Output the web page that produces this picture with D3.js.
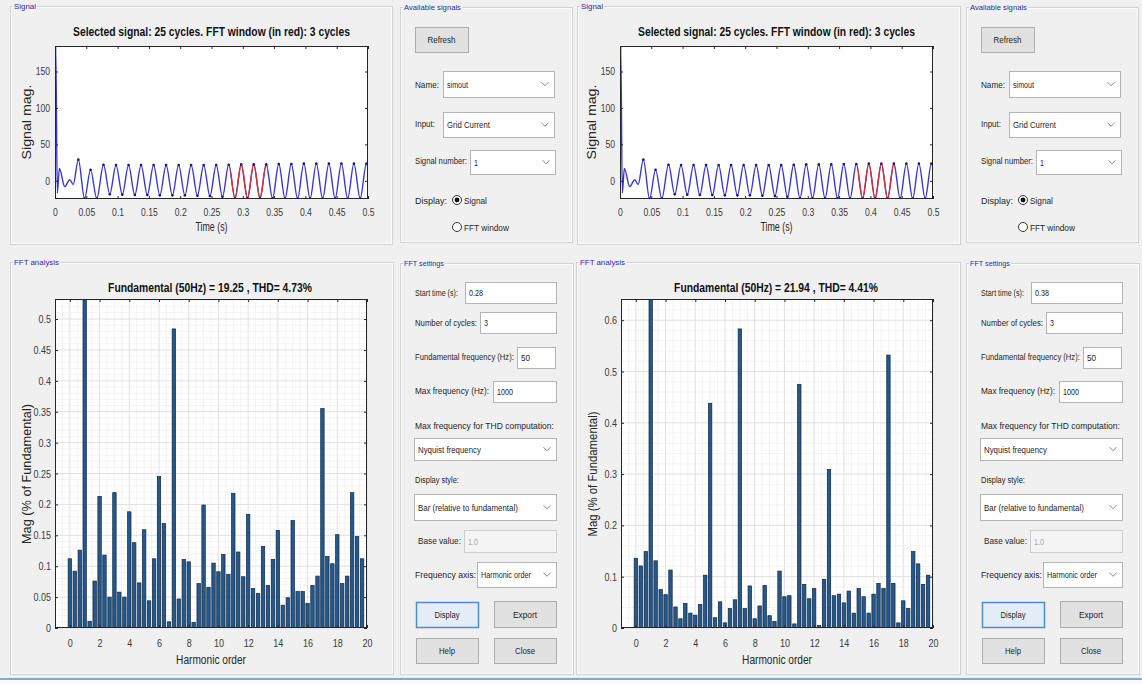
<!DOCTYPE html>
<html>
<head>
<meta charset="utf-8">
<script src="https://cdn.jsdelivr.net/npm/d3@7"></script>
<style>
  html, body { margin: 0; padding: 0; background: #f0f0f0; }
  svg { display: block; }
  text { font-family: "Liberation Sans", Arial, "DejaVu Sans", sans-serif; }
</style>
</head>
<body>
<svg id="chart" width="1142" height="684"></svg>
<script>
// ---- Signal: extrema of the recorded grid current (time in s, value in A) ----
const signalTime = [0, 0.0012, 0.0037, 0.007, 0.0155, 0.0235, 0.029, 0.0373, 0.0472, 0.0568, 0.0668,
  0.0775, 0.0875, 0.0975, 0.1075, 0.1175, 0.1275, 0.1375, 0.1475, 0.1575, 0.1675, 0.1775, 0.1875,
  0.1975, 0.2075, 0.2175, 0.2275, 0.2375, 0.2475, 0.2575, 0.2675, 0.2775, 0.2875, 0.2975, 0.3075,
  0.3175, 0.3275, 0.3375, 0.3475, 0.3575, 0.3675, 0.3775, 0.3875, 0.3975, 0.4075, 0.4175, 0.4275,
  0.4375, 0.4475, 0.4575, 0.4675, 0.4775, 0.4875, 0.4975, 0.5];
const signalValue = [0, 184, -17, 17, -8, 1.5, -5, 29, -24.5, 15, -24.5,
  22, -18.5, 21.5, -19, 21.5, -19.5, 21.5, -19.5, 21.5, -20, 21.5, -20,
  21.5, -20, 21.5, -20.5, 21.5, -21, 21.5, -22, 22, -24, 22.5, -24,
  22.5, -24, 22.5, -24, 23, -24.5, 23, -24.5, 23.5, -24.5, 23.5, -24.5,
  23.5, -24.5, 23.5, -24.5, 23.5, -24.5, 23.5, 21];

// ---- FFT results (magnitude in % of fundamental) ----
const harmonicOrder = [0,0.33,0.67,1,1.33,1.67,2,2.33,2.67,3,3.33,3.67,4,4.33,4.67,5,5.33,5.67,
  6,6.33,6.67,7,7.33,7.67,8,8.33,8.67,9,9.33,9.67,10,10.33,10.67,11,11.33,11.67,12,12.33,12.67,
  13,13.33,13.67,14,14.33,14.67,15,15.33,15.67,16,16.33,16.67,17,17.33,17.67,18,18.33,18.67,
  19,19.33,19.67];
const magFirst = [0.112,0.092,0.126, 100,0.011,0.076, 0.213,0.118,0.050, 0.219,0.058,0.050,
  0.188,0.138,0.073, 0.159,0.044,0.112, 0.245,0.169,0.010, 0.484,0.047,0.111, 0.107,0.009,0.072,
  0.199,0.066,0.105, 0.091,0.119,0.087, 0.218,0.123,0.083, 0.184,0.064,0.056, 0.132,0.069,0.111,
  0.158,0.037,0.049, 0.174,0.059,0.059, 0.040,0.069,0.084, 0.355,0.116,0.104, 0.151,0.072,0.084,
  0.219,0.148,0.112];
const magSecond = [0.136,0.121,0.149, 100,0.131,0.075, 0.065,0.113,0.041, 0.018,0.048,0.029,
  0.025,0.046,0.103, 0.438,0.020,0.051, 0.010,0.038,0.055, 0.583,0.038,0.082, 0.018,0.043,0.083,
  0.024,0.013,0.111, 0.061,0.063,0.008, 0.475,0.085,0.057, 0.077,0.005,0.095, 0.309,0.063,0.066,
  0.049,0.072,0.029, 0.077,0.061,0.029, 0.066,0.087,0.077, 0.532,0.087,0.010, 0.053,0.038,0.149,
  0.125,0.085,0.103];

// ---- Settings of the two analyses ----
const windowStart = [0.28, 0.38];
const windowCycles = [3, 3];
const fundamentalMag = ["19.25", "21.94"];
const thdPercent = ["4.73", "4.41"];

// ---- Tick labels ----
const timeTicks = [0, 0.05, 0.1, 0.15, 0.2, 0.25, 0.3, 0.35, 0.4, 0.45, 0.5];
const signalTicks = [0, 50, 100, 150];
const harmonicTicks = [0, 2, 4, 6, 8, 10, 12, 14, 16, 18, 20];
const magTicksFirst = [0, 0.05, 0.1, 0.15, 0.2, 0.25, 0.3, 0.35, 0.4, 0.45, 0.5];
const magTicksSecond = [0, 0.1, 0.2, 0.3, 0.4, 0.5, 0.6];

const svg = d3.select("#chart");
svg.append("rect").attr("width", 1142).attr("height", 684).attr("fill", "#f0f0f0");
const defs = svg.append("defs");

// text squeezed horizontally (narrow UI face) by scaling its own box
function label(g, x, y, s, o = {}) {
  const t = g.append("text").attr("x", 0).attr("y", 0).text(s)
    .attr("font-size", o.size || 9.5)
    .attr("fill", o.fill || "#1e1e1e")
    .attr("text-anchor", o.anchor || "start");
  if (o.weight) t.attr("font-weight", o.weight);
  const w = t.node().getComputedTextLength();
  const f = o.width ? o.width / w : 0.8;
  t.attr("transform", `translate(${x},${y})${o.rotate ? " rotate(-90)" : ""} scale(${f},1)`);
  return t;
}

function groupBox(g, x, y, w, h, title, tw) {
  g.append("rect").attr("x", x + 0.5).attr("y", y + 0.5).attr("width", w).attr("height", h)
    .attr("fill", "none").attr("stroke", "#d3d3d3");
  g.append("rect").attr("x", x + 1.5).attr("y", y + 1.5).attr("width", w - 2).attr("height", h - 2)
    .attr("fill", "none").attr("stroke", "#ffffff").attr("stroke-opacity", 0.7);
  g.append("rect").attr("x", x + 3).attr("y", y - 4).attr("width", tw + 2)
    .attr("height", 9).attr("fill", "#f0f0f0");
  label(g, x + 4, y + 3, title, { size: 8, fill: "#2d2d9c", width: tw });
}

function button(g, x, y, w, h, s, tw, active) {
  g.append("rect").attr("x", x + 0.5).attr("y", y + 0.5).attr("width", w).attr("height", h)
    .attr("fill", active ? "#e3eef9" : "#e1e1e1")
    .attr("stroke", active ? "#4a8fd0" : "#adadad").attr("stroke-width", active ? 1.5 : 1);
  label(g, x + w / 2, y + h / 2 + 3.5, s, { anchor: "middle", size: 9.5, width: tw });
}

function textBox(g, x, y, w, h, s, tw, disabled) {
  g.append("rect").attr("x", x + 0.5).attr("y", y + 0.5).attr("width", w).attr("height", h)
    .attr("fill", disabled ? "#f4f4f4" : "#ffffff")
    .attr("stroke", disabled ? "#cccccc" : "#b4b4b4");
  label(g, x + 4, y + h / 2 + 3.5, s, { size: 9.5, width: tw, fill: disabled ? "#a8a8a8" : "#1e1e1e" });
}

function dropDown(g, x, y, w, h, s, tw) {
  textBox(g, x, y, w, h, s, tw, false);
  const cx = x + w - 9, cy = y + h / 2;
  g.append("path").attr("d", `M${cx - 3.5},${cy - 1.8}L${cx},${cy + 1.8}L${cx + 3.5},${cy - 1.8}`)
    .attr("fill", "none").attr("stroke", "#888").attr("stroke-width", 1);
}

function radio(g, cx, cy, on) {
  g.append("circle").attr("cx", cx).attr("cy", cy).attr("r", 4.5)
    .attr("fill", "#fff").attr("stroke", "#333").attr("stroke-width", 1);
  if (on) g.append("circle").attr("cx", cx).attr("cy", cy).attr("r", 2.4).attr("fill", "#111");
}

// restyle a d3 axis: no spine, dark ticks, narrowed labels
function styleAxis(a, size, side) {
  a.attr("font-size", size).attr("font-family", null);
  a.select(".domain").remove();
  a.selectAll(".tick line").attr("stroke", "#262626");
  a.selectAll(".tick text").each(function () {
    const t = d3.select(this);
    const tx = +(t.attr("x") || 0), ty = +(t.attr("y") || 0);
    t.attr("x", 0).attr("y", 0).attr("fill", "#3a3a3a")
      .attr("transform", `translate(${tx},${ty}) scale(0.82,1)`);
  });
}

function controls(g, dx, start) {
  groupBox(g, 400 + dx, 7, 172, 235, "Available signals", 57);
  button(g, 415 + dx, 27, 53, 25, "Refresh", 28, false);
  label(g, 415 + dx, 88, "Name:", { width: 24 });
  dropDown(g, 443 + dx, 71, 111, 26, "simout", 21);
  label(g, 415 + dx, 127, "Input:", { width: 20 });
  dropDown(g, 443 + dx, 112, 111, 25, "Grid Current", 43);
  label(g, 415 + dx, 164, "Signal number:", { width: 52 });
  dropDown(g, 470 + dx, 150, 85, 24, "1", 4);
  label(g, 415 + dx, 204, "Display:", { width: 32 });
  radio(g, 457 + dx, 200, true);
  label(g, 464 + dx, 204, "Signal", { width: 23 });
  radio(g, 457 + dx, 227, false);
  label(g, 464 + dx, 231, "FFT window", { width: 45 });

  groupBox(g, 400 + dx, 263, 173, 411, "FFT settings", 40);
  label(g, 415 + dx, 296, "Start time (s):", { width: 43 });
  textBox(g, 465 + dx, 282, 91, 21, String(start), 14, false);
  label(g, 415 + dx, 326, "Number of cycles:", { width: 62 });
  textBox(g, 480 + dx, 312, 76, 21, String(windowCycles[0]), 4, false);
  label(g, 415 + dx, 360, "Fundamental frequency (Hz):", { width: 99 });
  textBox(g, 517 + dx, 347, 38, 21, "50", 9, false);
  label(g, 415 + dx, 394, "Max frequency (Hz):", { width: 74 });
  textBox(g, 493 + dx, 381, 63, 21, "1000", 16, false);
  label(g, 415 + dx, 429, "Max frequency for THD computation:", { width: 139 });
  dropDown(g, 414 + dx, 438, 142, 22, "Nyquist frequency", 63);
  label(g, 415 + dx, 483, "Display style:", { width: 44 });
  dropDown(g, 414 + dx, 494, 142, 26, "Bar (relative to fundamental)", 100);
  label(g, 418 + dx, 544, "Base value:", { width: 43 });
  textBox(g, 464 + dx, 530, 92, 22, "1.0", 10, true);
  label(g, 415 + dx, 578, "Frequency axis:", { width: 61 });
  dropDown(g, 477 + dx, 562, 79, 25, "Harmonic order", 50);
  button(g, 416 + dx, 602, 62, 25, "Display", 25, true);
  button(g, 494 + dx, 601, 62, 26, "Export", 24, false);
  button(g, 416 + dx, 638, 62, 25, "Help", 16, false);
  button(g, 494 + dx, 638, 62, 25, "Close", 20, false);
}

function signalPlot(g, id, x0, start, cycles) {
  const left = x0, right = x0 + 313, top = 46, bottom = 199;
  const x = d3.scaleLinear([0, 0.5], [left, right]);
  const y = d3.scaleLinear([-25, 185], [bottom, top]);
  g.append("rect").attr("x", left).attr("y", top).attr("width", right - left).attr("height", bottom - top)
    .attr("fill", "#ffffff");

  defs.append("clipPath").attr("id", "sig" + id).append("rect")
    .attr("x", left).attr("y", top).attr("width", right - left).attr("height", bottom - top);
  const winEnd = start + cycles / 50;
  defs.append("clipPath").attr("id", "win" + id).append("rect")
    .attr("x", x(start)).attr("y", top).attr("width", x(winEnd) - x(start)).attr("height", bottom - top);

  const pts = signalTime.map((t, i) => [t, signalValue[i]]);
  const line = d3.line().x(d => x(d[0])).y(d => y(d[1])).curve(d3.curveMonotoneX);
  const lg = g.append("g").attr("clip-path", `url(#sig${id})`);
  lg.append("path").attr("d", line(pts)).attr("fill", "none")
    .attr("stroke", "#3838d0").attr("stroke-width", 1.4);
  lg.append("path").attr("d", line(pts)).attr("fill", "none").attr("clip-path", `url(#win${id})`)
    .attr("stroke", "#d9302f").attr("stroke-width", 1.4);
  lg.selectAll("circle.ext").data(pts.slice(7)).join("circle")
    .attr("cx", d => x(d[0])).attr("cy", d => y(d[1])).attr("r", 1.3).attr("fill", "#16167a");

  const fmt = d => String(d);
  styleAxis(g.append("g").attr("transform", `translate(0,${bottom})`)
    .call(d3.axisBottom(x).tickValues(timeTicks).tickFormat(fmt).tickSizeInner(-3).tickSizeOuter(0).tickPadding(10)), 10.5);
  styleAxis(g.append("g").attr("transform", `translate(0,${top})`)
    .call(d3.axisTop(x).tickValues(timeTicks).tickFormat("").tickSizeInner(-3).tickSizeOuter(0)), 10.5);
  styleAxis(g.append("g").attr("transform", `translate(${left},0)`)
    .call(d3.axisLeft(y).tickValues(signalTicks).tickFormat(fmt).tickSizeInner(-3).tickSizeOuter(0).tickPadding(5)), 10.5);
  styleAxis(g.append("g").attr("transform", `translate(${right},0)`)
    .call(d3.axisRight(y).tickValues(signalTicks).tickFormat("").tickSizeInner(-3).tickSizeOuter(0)), 10.5);
  g.append("rect").attr("x", left + 0.5).attr("y", top + 0.5).attr("width", right - left - 1).attr("height", bottom - top - 1)
    .attr("fill", "none").attr("stroke", "#262626").attr("stroke-width", 1);

  label(g, (left + right) / 2, 36, `Selected signal: 25 cycles. FFT window (in red): ${cycles} cycles`,
    { anchor: "middle", size: 12, weight: "bold", fill: "#111", width: 277 });
  label(g, (left + right) / 2, 231, "Time (s)", { anchor: "middle", size: 12.5, fill: "#262626", width: 32 });
  label(g, left - 24, 122, "Signal mag.", { anchor: "middle", size: 12.5, fill: "#262626", rotate: true, width: 75 });
}

function fftPlot(g, id, x0, mags, ticks, minorStep, fund, thd, yLabelLen) {
  const left = x0, right = x0 + 312, top = 299, bottom = 628;
  const x = d3.scaleLinear([-1, 20], [left, right]);
  const harmonics = mags.filter((v, i) => harmonicOrder[i] !== 1);
  const yMax = d3.max(harmonics) * 1.1;
  const y = d3.scaleLinear([0, yMax], [bottom, top]);

  g.append("rect").attr("x", left).attr("y", top).attr("width", right - left).attr("height", bottom - top)
    .attr("fill", "#ffffff");

  // minor then major grid
  const gx = g.append("g");
  d3.range(-1, 20.001, 0.5).forEach(v => {
    const major = Math.abs(v / 2 - Math.round(v / 2)) < 1e-6;
    gx.append("line").attr("x1", x(v)).attr("x2", x(v)).attr("y1", top).attr("y2", bottom)
      .attr("stroke", major ? "#dcdcdc" : "#eeeeee").attr("stroke-width", major ? 0.9 : 0.7);
  });
  d3.range(0, yMax, minorStep).forEach((v, i) => {
    const major = i % 5 === 0;
    gx.append("line").attr("x1", left).attr("x2", right).attr("y1", y(v)).attr("y2", y(v))
      .attr("stroke", major ? "#dcdcdc" : "#eeeeee").attr("stroke-width", major ? 0.9 : 0.7);
  });

  defs.append("clipPath").attr("id", "fft" + id).append("rect")
    .attr("x", left).attr("y", top).attr("width", right - left).attr("height", bottom - top);
  const bw = x(0.23) - x(0);
  g.append("g").attr("clip-path", `url(#fft${id})`)
    .selectAll("rect").data(mags).join("rect")
    .attr("x", (d, i) => x(harmonicOrder[i]) - bw / 2)
    .attr("y", d => y(d))
    .attr("width", bw)
    .attr("height", d => bottom - y(d))
    .attr("fill", "#22598f").attr("stroke", "#14263c").attr("stroke-width", 0.7);

  const fmt = d => String(d);
  styleAxis(g.append("g").attr("transform", `translate(0,${bottom})`)
    .call(d3.axisBottom(x).tickValues(harmonicTicks).tickFormat(fmt).tickSizeInner(-3).tickSizeOuter(0).tickPadding(11)), 11);
  styleAxis(g.append("g").attr("transform", `translate(0,${top})`)
    .call(d3.axisTop(x).tickValues(harmonicTicks).tickFormat("").tickSizeInner(-3).tickSizeOuter(0)), 11);
  styleAxis(g.append("g").attr("transform", `translate(${left},0)`)
    .call(d3.axisLeft(y).tickValues(ticks).tickFormat(fmt).tickSizeInner(-3).tickSizeOuter(0).tickPadding(4)), 11);
  styleAxis(g.append("g").attr("transform", `translate(${right},0)`)
    .call(d3.axisRight(y).tickValues(ticks).tickFormat("").tickSizeInner(-3).tickSizeOuter(0)), 11);
  g.append("rect").attr("x", left + 0.5).attr("y", top + 0.5).attr("width", right - left - 1).attr("height", bottom - top - 1)
    .attr("fill", "none").attr("stroke", "#262626").attr("stroke-width", 1);

  label(g, left + 155, 292, `Fundamental (50Hz) = ${fund} , THD= ${thd}%`,
    { anchor: "middle", size: 12, weight: "bold", fill: "#111", width: 204 });
  label(g, (left + right) / 2, 664, "Harmonic order", { anchor: "middle", size: 12.5, fill: "#262626", width: 70 });
  label(g, left - 24, 474, "Mag (% of Fundamental)", { anchor: "middle", size: 12.5, fill: "#262626", rotate: true, width: yLabelLen });
}

// left analysis window
const gA = svg.append("g");
groupBox(gA, 10, 6, 382, 238, "Signal", 22);
groupBox(gA, 10, 262, 383, 412, "FFT analysis", 45);
signalPlot(gA, "a", 55, windowStart[0], windowCycles[0]);
fftPlot(gA, "a", 55, magFirst, magTicksFirst, 0.01, fundamentalMag[0], thdPercent[0], 140);
controls(gA, 0, windowStart[0]);

// right analysis window
const gB = svg.append("g");
groupBox(gB, 577, 6, 383, 238, "Signal", 22);
groupBox(gB, 576, 262, 384, 412, "FFT analysis", 45);
signalPlot(gB, "b", 620, windowStart[1], windowCycles[1]);
fftPlot(gB, "b", 621, magSecond, magTicksSecond, 0.02, fundamentalMag[1], thdPercent[1], 125);
controls(gB, 566, windowStart[1]);

// status strip along the bottom edge
svg.append("rect").attr("x", 0).attr("y", 678).attr("width", 1142).attr("height", 2).attr("fill", "#7ea9d8");
svg.append("rect").attr("x", 0).attr("y", 680).attr("width", 1142).attr("height", 4).attr("fill", "#fbfbfb");
</script>
</body>
</html>
